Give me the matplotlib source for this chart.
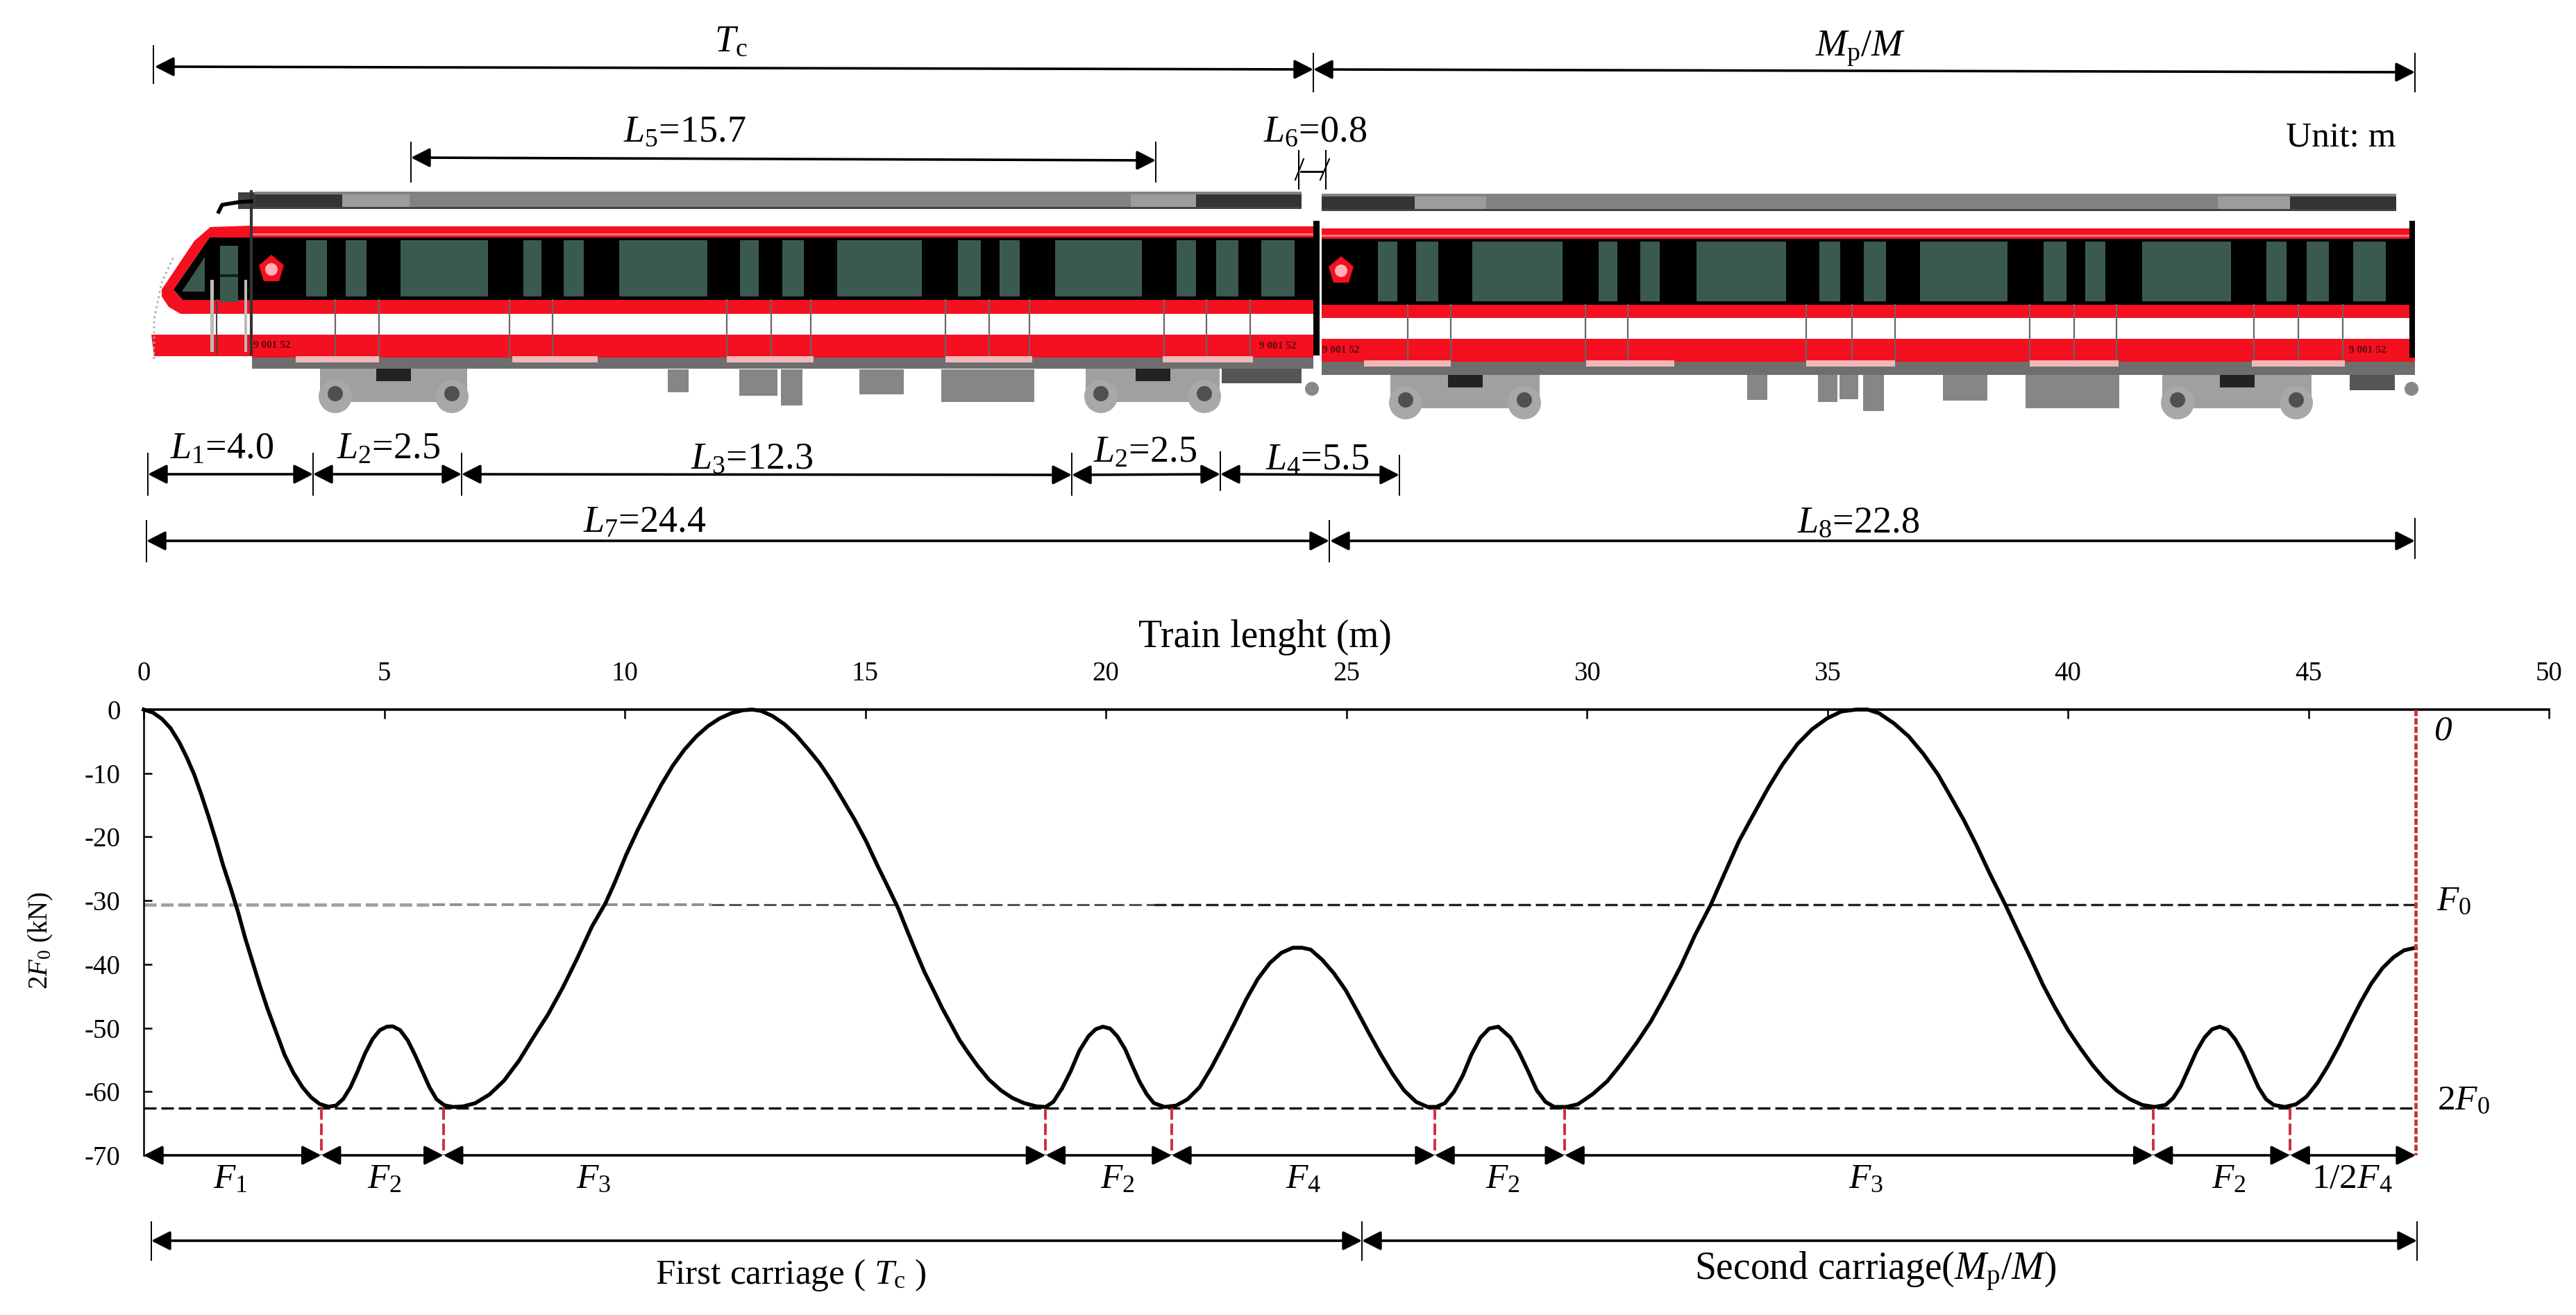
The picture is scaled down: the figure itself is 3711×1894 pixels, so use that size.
import matplotlib
import matplotlib.pyplot as plt
from matplotlib.patches import Circle, Polygon, Rectangle

matplotlib.use("Agg")

plt.rcParams["font.family"] = ["Liberation Serif", "DejaVu Serif"]
plt.rcParams["mathtext.fontset"] = "custom"
plt.rcParams["mathtext.rm"] = "Liberation Serif"
plt.rcParams["mathtext.it"] = "Liberation Serif:italic"
plt.rcParams["axes.unicode_minus"] = False

W, H = 3711, 1894

# curve: train position (m), force (kN)
POSITION = [
    0, 0.19, 0.38, 0.56, 0.74, 0.89, 1.05, 1.20, 1.35, 1.50, 1.65, 1.81, 1.96, 2.11, 2.26, 2.41, 2.57, 2.75, 2.93,
    3.11, 3.30, 3.48, 3.66, 3.84, 4.0, 4.15, 4.30, 4.45, 4.60, 4.76, 4.91, 5.06, 5.18, 5.33, 5.49, 5.64, 5.79,
    5.94, 6.09, 6.25, 6.43, 6.64, 6.89, 7.19, 7.49, 7.80, 8.10, 8.41, 8.71, 9.01, 9.32, 9.60, 9.79, 10.03, 10.27,
    10.52, 10.76, 11.0, 11.24, 11.49, 11.73, 11.97, 12.22, 12.46, 12.65, 12.83, 13.07, 13.32, 13.56, 13.8, 14.05,
    14.29, 14.53, 14.78, 15.02, 15.26, 15.5, 15.69, 15.87, 16.05, 16.23, 16.42, 16.6, 16.78, 16.96, 17.15, 17.33,
    17.57, 17.82, 18.06, 18.3, 18.55, 18.75, 18.91, 19.09, 19.27, 19.45, 19.64, 19.79, 19.94, 20.09, 20.24, 20.4,
    20.55, 20.7, 20.85, 21.0, 21.22, 21.46, 21.7, 21.95, 22.19, 22.43, 22.68, 22.92, 23.16, 23.41, 23.65, 23.89,
    24.08, 24.26, 24.5, 24.74, 24.99, 25.23, 25.47, 25.72, 25.96, 26.2, 26.45, 26.69, 26.87, 27.05, 27.24, 27.42,
    27.6, 27.79, 27.97, 28.16, 28.41, 28.59, 28.78, 28.96, 29.14, 29.32, 29.57, 29.81, 30.12, 30.42, 30.72, 31.03,
    31.33, 31.64, 31.94, 32.25, 32.58, 32.86, 33.16, 33.47, 33.77, 34.07, 34.38, 34.68, 34.99, 35.29, 35.6, 35.84,
    36.08, 36.39, 36.69, 37.0, 37.3, 37.58, 37.84, 38.1, 38.36, 38.71, 38.97, 39.23, 39.48, 39.74, 40.0, 40.26,
    40.52, 40.77, 41.03, 41.29, 41.55, 41.8, 42.03, 42.19, 42.35, 42.51, 42.67, 42.84, 43.0, 43.16, 43.32, 43.48,
    43.64, 43.8, 43.96, 44.12, 44.28, 44.51, 44.74, 44.96, 45.19, 45.41, 45.64, 45.86, 46.09, 46.31, 46.54, 46.77,
    46.99, 47.23,
]
FORCE = [
    0, -0.46, -1.47, -2.94, -5.14, -7.43, -10.19, -13.4, -16.84, -20.51, -24.41, -28.09, -31.76, -35.89, -39.56,
    -43.23, -46.9, -50.57, -54.24, -57.0, -59.29, -60.9, -61.95, -62.37, -62.18, -61.13, -59.29, -56.77, -54.02,
    -51.72, -50.34, -49.79, -49.75, -50.34, -51.95, -54.24, -56.77, -59.29, -61.22, -62.14, -62.41, -62.32, -61.82,
    -60.44, -58.28, -55.16, -51.49, -47.82, -43.69, -39.1, -34.05, -30.4, -27.2, -22.8, -18.9, -15.2, -11.8, -8.8,
    -6.3, -4.2, -2.6, -1.4, -0.55, -0.1, 0, -0.2, -1.0, -2.3, -4, -6.1, -8.4, -11.1, -14.1, -17.3, -20.7, -24.6,
    -28.3, -31.3, -34.7, -38, -41.2, -44.1, -46.9, -49.4, -51.9, -54, -55.9, -58.1, -59.8, -61, -61.8, -62.3,
    -62.4, -61.6, -59.5, -56.8, -53.6, -51.3, -50.2, -49.8, -50.1, -51.3, -53.3, -55.9, -58.4, -60.4, -61.8, -62.4,
    -62.2, -61.2, -59.3, -56.3, -52.9, -49.2, -45.5, -42.3, -39.8, -38.2, -37.4, -37.4, -37.7, -39.3, -41.4, -44.1,
    -47.4, -50.8, -54.2, -57.2, -59.8, -61.6, -62.4, -62.4, -61.8, -60, -57.5, -54.2, -51.5, -50.1, -49.8, -51.5,
    -53.8, -56.8, -59.8, -61.6, -62.4, -62.4, -62, -60.4, -58.4, -55.6, -52.4, -49, -44.8, -40.5, -35.4, -30.6,
    -25.8, -20.7, -16.4, -12.3, -8.6, -5.4, -3.1, -1.4, -0.3, 0, 0, -0.6, -2.2, -4.2, -7, -10.2, -13.9, -17.4,
    -21.3, -25.5, -30.8, -35, -39.1, -43.2, -46.9, -50.3, -53.2, -55.9, -58.1, -59.9, -61.2, -62.1, -62.4, -62.1,
    -61, -59.1, -56.4, -53.7, -51.5, -50.2, -49.8, -50.3, -51.8, -53.9, -56.6, -59.3, -61.2, -62.1, -62.4, -62,
    -60.8, -58.6, -55.9, -52.7, -49.3, -45.9, -43, -40.6, -38.9, -37.8, -37.4,
]

XTICKS = [0, 5, 10, 15, 20, 25, 30, 35, 40, 45, 50]
YTICKS = [0, -10, -20, -30, -40, -50, -60, -70]
F0_LEVEL = -30.6
TWO_F0_LEVEL = -62.6
END_X = 47.23
SPLITS = [3.69, 6.23, 18.75, 21.37, 26.84, 29.54, 41.77, 44.62]
SEGMENT_EDGES = [0, 3.69, 6.23, 18.75, 21.37, 26.84, 29.54, 41.77, 44.62, 47.23]
SEGMENT_LABELS = [
    (1.8, r"$\mathit{F}_{1}$"), (5.0, r"$\mathit{F}_{2}$"), (9.35, r"$\mathit{F}_{3}$"),
    (20.25, r"$\mathit{F}_{2}$"), (24.1, r"$\mathit{F}_{4}$"), (28.25, r"$\mathit{F}_{2}$"),
    (35.8, r"$\mathit{F}_{3}$"), (43.35, r"$\mathit{F}_{2}$"), (45.9, r"1/2$\mathit{F}_{4}$"),
]

# dimension lines: x0, x1, y0, y1 in image pixels
DIMENSIONS = [
    (223, 1892, 96, 100), (1892, 3479, 100, 104), (592, 1665, 227, 231),
    (213, 451, 683, 683), (451, 665, 683, 683), (665, 1544, 683, 684),
    (1544, 1758, 684, 683), (1758, 2016, 683, 684),
    (211, 1915, 779, 779), (1916, 3479, 779, 779),
    (218, 1962, 1787, 1787), (1962, 3482, 1787, 1787),
]
EXTENSIONS = [
    (221, 66, 120), (1892, 77, 132), (3479, 77, 132), (592, 205, 262), (1665, 205, 262),
    (213, 653, 713), (451, 653, 713), (665, 653, 713), (1544, 653, 713), (1758, 651, 706), (2016, 656, 713),
    (211, 750, 809), (1915, 750, 809), (3479, 747, 804), (218, 1760, 1815), (1962, 1760, 1815), (3482, 1760, 1815),
]
DIM_TEXT = [
    (1053, 60, r"$\mathit{T}_{\mathrm{c}}$", 39), (2680, 70, r"$\mathit{M}_{\mathrm{p}}/\mathit{M}$", 39),
    (986, 190, r"$\mathit{L}_{5}$=15.7", 39), (1895, 190, r"$\mathit{L}_{6}$=0.8", 39), (3372, 198, "Unit: m", 37),
    (320, 647, r"$\mathit{L}_{1}$=4.0", 39), (560, 647, r"$\mathit{L}_{2}$=2.5", 39),
    (1083, 661, r"$\mathit{L}_{3}$=12.3", 39), (1650, 652, r"$\mathit{L}_{2}$=2.5", 39),
    (1898, 663, r"$\mathit{L}_{4}$=5.5", 39),
    (929, 753, r"$\mathit{L}_{7}$=24.4", 39), (2677, 753, r"$\mathit{L}_{8}$=22.8", 39),
    (1139, 1836, r"First carriage ( $\mathit{T}_{\mathrm{c}}$ )", 37),
    (2702, 1831, r"Second carriage($\mathit{M}_{\mathrm{p}}/\mathit{M}$)", 40),
]

# train drawing, image pixels
CAR1_BANDS = (276, 301, 326, 342, 432, 452, 482, 515, 531)
CAR2_BANDS = (279, 304, 329, 344, 439, 458, 488, 521, 540)
CAR1_ROOF = (367, 493, 590, 1629, 1723, 1875)
CAR2_ROOF = (1904, 2038, 2141, 3195, 3299, 3452)
CAR1_WINDOWS = [(441, 471), (498, 528), (577, 703), (754, 780), (812, 841), (892, 1019), (1066, 1093), (1127, 1158),
                (1206, 1328), (1380, 1413), (1440, 1469), (1520, 1645), (1695, 1723), (1752, 1784), (1817, 1865)]
CAR2_WINDOWS = [(1985, 2013), (2040, 2072), (2121, 2251), (2303, 2330), (2363, 2391), (2444, 2573), (2621, 2651),
                (2685, 2717), (2766, 2892), (2944, 2977), (3004, 3033), (3086, 3214), (3265, 3294), (3323, 3355),
                (3390, 3437)]
CAR1_DOORS = [483, 546, 734, 796, 1047, 1111, 1168, 1362, 1425, 1483, 1677, 1738, 1801]
CAR2_DOORS = [2028, 2090, 2284, 2345, 2602, 2668, 2730, 2924, 2988, 3049, 3247, 3311, 3375]
CAR1_STRIPS = [(426, 546), (738, 861), (1047, 1172), (1362, 1487), (1675, 1805)]
CAR2_STRIPS = [(1965, 2090), (2285, 2412), (2602, 2730), (2924, 3052), (3244, 3378)]
CAR1_WHEELS = [483, 651, 1586, 1735]
CAR2_WHEELS = [2025, 2196, 3137, 3308]
CAR1_BOXES = [(962, 992, 532, 565), (1065, 1120, 532, 570), (1125, 1156, 532, 584), (1238, 1302, 532, 568),
              (1356, 1490, 532, 579)]
CAR2_BOXES = [(2517, 2546, 540, 576), (2619, 2647, 540, 579), (2650, 2677, 540, 575), (2684, 2714, 540, 592),
              (2799, 2863, 540, 577), (2918, 3053, 540, 588)]
CAR_NUMBERS = [(392, 497), (1841, 498), (1932, 504), (3411, 504)]
CAR_NUMBER = "9 001 52"
GRAY_ROOF = "#828282"
RED = "#f4101f"
GREEN = "#3b5a4e"

fig = plt.figure(figsize=(W / 100, H / 100), dpi=100, facecolor="white")
px = fig.add_axes([0, 0, 1, 1])
px.set_xlim(0, W)
px.set_ylim(H, 0)
px.axis("off")


def rect(x0, x1, y0, y1, color, z=2):
    px.add_patch(Rectangle((x0, y0), x1 - x0, y1 - y0, facecolor=color, edgecolor="none", zorder=z))


def draw_car(x0, x1, roof, bands, windows, doors, strips, wheels, boxes, wheel_y, logo_x):
    roof_top, white_top, red_top, black_top, red2_top, white2_top, red3_top, gray_top, gray_bot = bands
    rect(roof[0], roof[5], roof_top, white_top, GRAY_ROOF)
    rect(roof[0], roof[5], white_top - 3, white_top, "#444444", 3)
    rect(roof[0], roof[1], roof_top + 4, white_top - 3, "#343434", 3)
    rect(roof[4], roof[5], roof_top + 4, white_top - 3, "#343434", 3)
    rect(roof[1], roof[2], roof_top + 4, white_top - 3, "#9c9c9c", 3)
    rect(roof[3], roof[4], roof_top + 4, white_top - 3, "#9c9c9c", 3)
    rect(x0, x1, red_top, black_top, RED)
    rect(x0, x1, black_top - 6, black_top - 3, "#ff7080", 3)
    rect(x0, x1, black_top, red2_top, "black")
    rect(x0, x1, red2_top, white2_top, RED)
    rect(x0, x1, red3_top, gray_top, RED)
    rect(x0, x1, gray_top, gray_bot, "#6e6e6e")
    for left, right in windows:
        rect(left, right, black_top + 4, red2_top - 5, GREEN, 3)
    for x in doors:
        px.plot([x, x], [red2_top, gray_top], color="#666666", lw=1.6, zorder=3)
    for left, right in strips:
        rect(left, right, gray_top - 2, gray_top + 7, "#f0b8b8", 3)
    for left, right, top, bottom in boxes:
        rect(left, right, top, bottom, "#868686")
    for i in (0, 2):
        left, right = wheels[i], wheels[i + 1]
        rect(left - 22, right + 22, gray_bot, wheel_y + 8, "#a0a0a0")
        rect((left + right) / 2 - 25, (left + right) / 2 + 25, gray_bot, gray_bot + 18, "#222222", 3)
    for x in wheels:
        px.add_patch(Circle((x, wheel_y), 24, facecolor="#a8a8a8", edgecolor="none", zorder=3))
        px.add_patch(Circle((x, wheel_y - 4), 11, facecolor="#505050", edgecolor="none", zorder=4))
    logo_y = black_top + 45
    px.add_patch(Polygon([(logo_x, logo_y - 20), (logo_x + 18, logo_y - 5), (logo_x + 11, logo_y + 18),
                          (logo_x - 11, logo_y + 18), (logo_x - 18, logo_y - 5)],
                         facecolor=RED, edgecolor="none", zorder=4))
    px.add_patch(Circle((logo_x, logo_y + 1), 9, facecolor="#ffb0b8", edgecolor="none", zorder=5))


draw_car(363, 1892, CAR1_ROOF, CAR1_BANDS, CAR1_WINDOWS, CAR1_DOORS,
         CAR1_STRIPS, CAR1_WHEELS, CAR1_BOXES, 571, 391)
draw_car(1904, 3479, CAR2_ROOF, CAR2_BANDS, CAR2_WINDOWS, CAR2_DOORS,
         CAR2_STRIPS, CAR2_WHEELS, CAR2_BOXES, 580, 1932)
for x, y in CAR_NUMBERS:
    px.text(x, y, CAR_NUMBER, ha="center", va="center", fontsize=11, fontweight="bold", color="#5a0a12", zorder=5)

# cab nose of the first car
px.add_patch(Polygon([(218, 482), (363, 482), (363, 513), (222, 513)], facecolor=RED, edgecolor="none", zorder=2))
px.add_patch(Polygon([(233, 417), (280, 347), (303, 327), (363, 325), (363, 342), (302, 342), (250, 417), (263, 432),
                      (363, 432), (363, 452), (260, 452), (243, 442), (233, 427)],
                     facecolor=RED, edgecolor="none", zorder=2))
px.add_patch(Polygon([(302, 342), (250, 417), (263, 432), (363, 432), (363, 342)],
                     facecolor="black", edgecolor="none", zorder=3))
px.add_patch(Polygon([(262, 420), (295, 370), (295, 420)], facecolor=GREEN, edgecolor="none", zorder=4))
rect(317, 343, 354, 435, GREEN, 4)
rect(317, 343, 395, 399, "#10201a", 5)
px.plot([222, 222, 233, 250], [517, 460, 407, 370], color="#aaaaaa", lw=2, ls=":", zorder=2)
rect(303, 308, 403, 507, "#bbbbbb", 5)
rect(352, 356, 403, 507, "#bbbbbb", 5)
px.plot([312, 312], [432, 510], color="#444444", lw=1.5, zorder=4)
px.plot([362, 362], [276, 510], color="#333333", lw=3, zorder=4)
px.plot([315, 320, 345, 362], [305, 295, 291, 290], color="black", lw=4, zorder=4)
rect(343, 367, 277, 301, "#404040", 3)

# coupler end and gap between the cars
rect(1875, 1892, 276, 326, "white", 3)
rect(1892, 1904, 276, 540, "white", 3)
rect(1892, 1901, 318, 512, "black", 4)
rect(3471, 3479, 318, 515, "black", 4)
rect(1760, 1875, 531, 552, "#555555")
rect(3385, 3450, 540, 562, "#555555")
for x in (1890, 3474):
    px.add_patch(Circle((x, 560), 10, facecolor="#888888", edgecolor="none", zorder=2))
px.plot([1871, 1871], [217, 272], color="black", lw=1.5)
px.plot([1910, 1910], [217, 272], color="black", lw=1.5)
px.plot([1866, 1878], [259, 229], color="black", lw=1.5)
px.plot([1902, 1915], [259, 229], color="black", lw=1.5)
px.plot([1874, 1905], [247, 247], color="black", lw=2)

for x, y0, y1 in EXTENSIONS:
    px.plot([x, x], [y0, y1], color="black", lw=1.4, zorder=1)
for x0, x1, y0, y1 in DIMENSIONS:
    px.annotate("", xy=(x1, y1), xytext=(x0, y0),
                arrowprops=dict(arrowstyle="<|-|>,head_length=0.55,head_width=0.28", color="black", lw=2.6,
                                mutation_scale=30, shrinkA=0, shrinkB=0))
for x, y, label, size in DIM_TEXT:
    px.text(x, y, label, ha="center", va="center", fontsize=size)

ax = fig.add_axes([207 / W, 1 - 1664 / H, (3672 - 207) / W, (1664 - 1022) / H], facecolor="none")
ax.plot(POSITION, FORCE, color="black", lw=4, solid_joinstyle="round", clip_on=False, zorder=4)
ax.plot([0, 6], [F0_LEVEL, F0_LEVEL], color="#a0a0a0", lw=3.4, ls=(0, (3.8, 1.4)))
ax.plot([6, 11.8], [F0_LEVEL, F0_LEVEL], color="#909090", lw=2.8, ls=(0, (4.6, 1.8)))
ax.plot([11.8, 21], [F0_LEVEL, F0_LEVEL], color="#555555", lw=2.2, ls=(0, (5.9, 2.3)))
ax.plot([21, END_X], [F0_LEVEL, F0_LEVEL], color="#222222", lw=2.4, ls=(0, (5.4, 2.1)))
ax.plot([0, END_X], [TWO_F0_LEVEL, TWO_F0_LEVEL], color="#111111", lw=2.4, ls=(0, (5.4, 2.1)))
for x in SPLITS:
    ax.plot([x, x], [TWO_F0_LEVEL, -70], color="#c8323c", lw=2.8, ls=(0, (4.3, 1.4)), zorder=3)
ax.plot([END_X, END_X], [0, -70], color="#c8323c", lw=3.4, ls=(0, (1.9, 0.65)), zorder=5)

for left, right in zip(SEGMENT_EDGES[:-1], SEGMENT_EDGES[1:]):
    ax.annotate("", xy=(right, -70), xytext=(left, -70), annotation_clip=False,
                arrowprops=dict(arrowstyle="<|-|>,head_length=0.55,head_width=0.28", color="black", lw=2.6,
                                mutation_scale=30, shrinkA=0, shrinkB=0))
for x, label in SEGMENT_LABELS:
    ax.text(x, -73.8, label, ha="center", va="center", fontsize=37)

ax.text(END_X + 0.56, -3.4, "0", style="italic", ha="center", va="center", fontsize=37)
ax.text(END_X + 0.8, -30.2, r"$\mathit{F}_{0}$", ha="center", va="center", fontsize=37)
ax.text(END_X + 1.0, -61.5, r"2$\mathit{F}_{0}$", ha="center", va="center", fontsize=37)

ax.set_xlim(0, 50)
ax.set_ylim(-70, 0)
ax.set_xticks(XTICKS)
ax.set_yticks(YTICKS)
ax.xaxis.tick_top()
ax.xaxis.set_label_position("top")
ax.spines["right"].set_visible(False)
ax.spines["bottom"].set_visible(False)
ax.spines["top"].set_linewidth(2.6)
ax.spines["left"].set_linewidth(1.8)
ax.tick_params(axis="x", direction="in", length=9, width=1.8, pad=24, labelsize=28)
ax.tick_params(axis="y", direction="in", length=8.5, width=1.8, pad=24, labelsize=28)
ax.set_xlabel("Train lenght (m)", fontsize=40, va="center")
ax.set_ylabel(r"2$\mathit{F}_{0}$ (kN)", fontsize=28, va="center")
ax.xaxis.set_label_coords((1822 - 207) / (3672 - 207), 1 + (1022 - 918) / (1664 - 1022), transform=ax.transAxes)
ax.yaxis.set_label_coords((59 - 207) / (3672 - 207), (1664 - 1354) / (1664 - 1022), transform=ax.transAxes)

fig.savefig("out.png", dpi=100)
